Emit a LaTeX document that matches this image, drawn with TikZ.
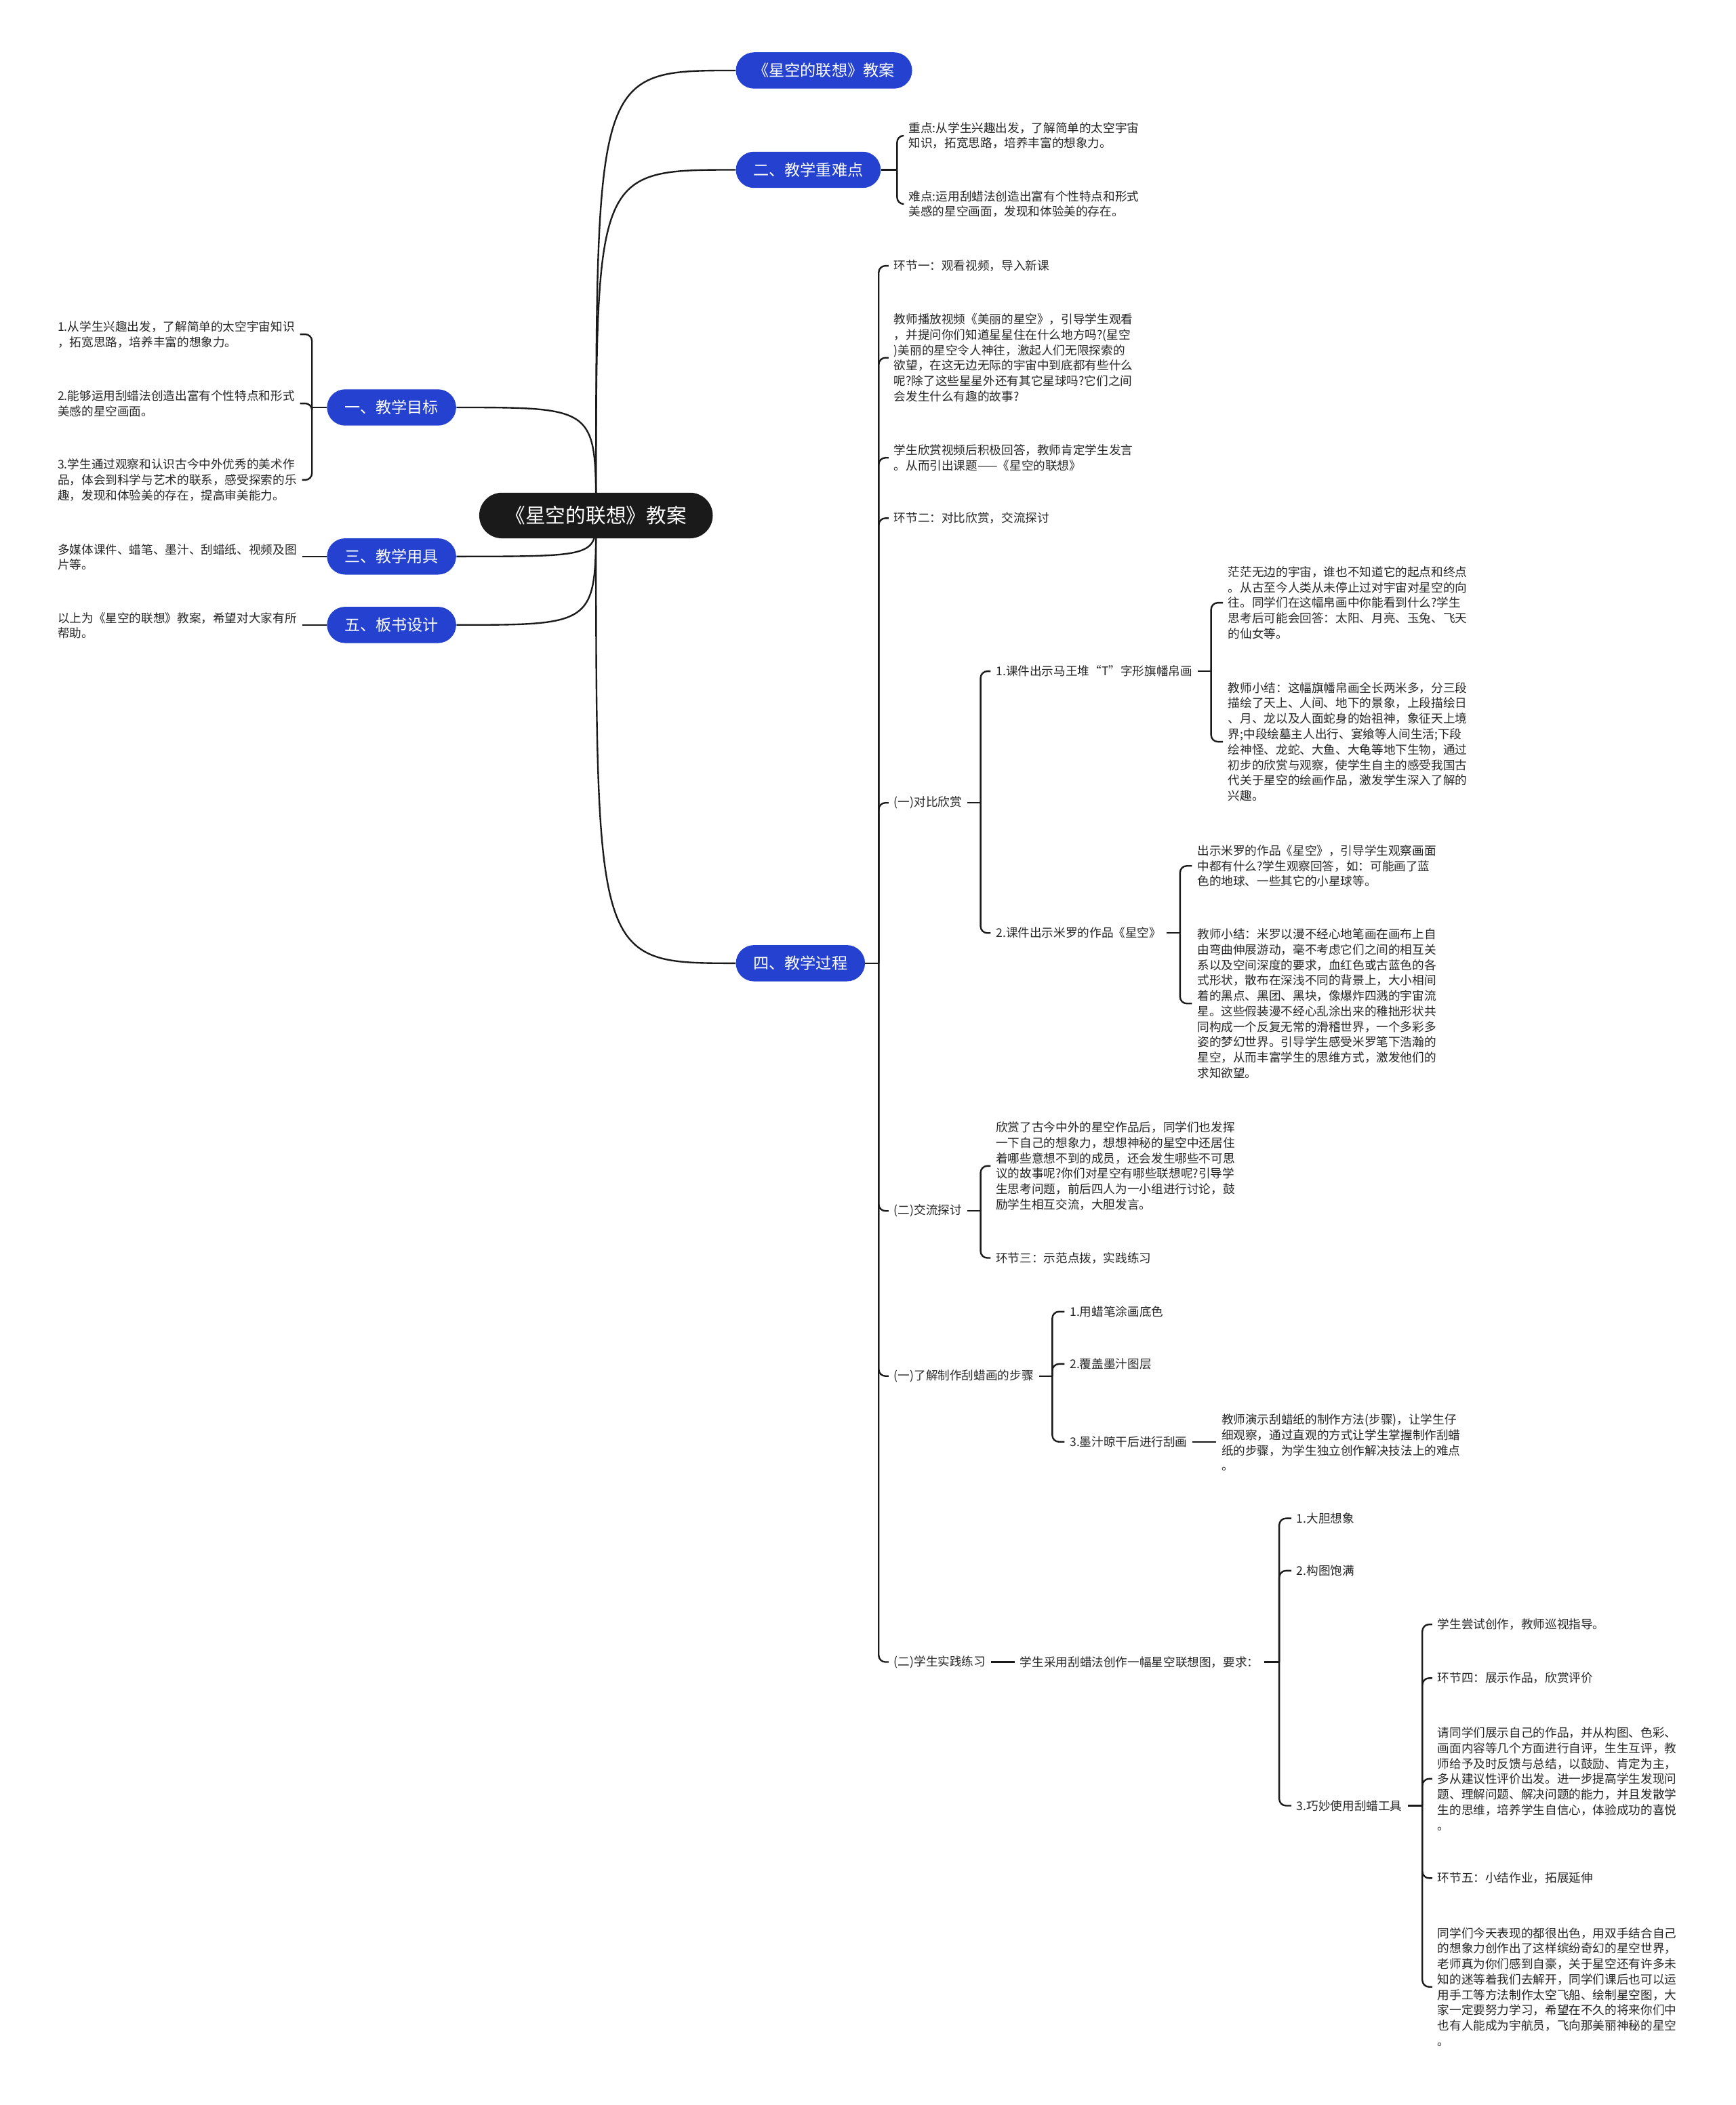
\documentclass[tikz,border=0pt]{standalone}
\usepackage{fontspec}
\setmainfont{Noto Sans CJK SC}
\usetikzlibrary{backgrounds}
\definecolor{mapink}{HTML}{1A1A1A}
\definecolor{mapblue}{HTML}{2441D0}
\definecolor{maptext}{HTML}{262626}

\begin{document}
\begin{tikzpicture}[x=1pt, y=-1pt,
    every node/.style={inner sep=0pt},
    rootbox/.style={fill=mapink, text=white, rounded corners=17pt,
                    minimum height=34pt, inner xsep=19.5pt,
                    font=\fontsize{15}{18}\selectfont},
    topic/.style={fill=mapblue, text=white, rounded corners=13.5pt,
                  minimum height=27pt, inner xsep=13pt,
                  font=\fontsize{11.7}{14}\selectfont},
    leaf/.style={anchor=west, align=left, text=maptext, outer xsep=4pt,
                 font=\fontsize{8.9}{11.5}\selectfont},
    link/.style={draw=mapink, line width=1.2pt},
    elbow/.style={link, rounded corners=5pt}]

  \useasboundingbox (0,0) rectangle (1293,1568);

  %% 分叉: 从短横线的端点折到子节点
  \newcommand{\mapfork}[2]{\draw[elbow] (#1) |- (#2.west);}
  \newcommand{\mapforkl}[2]{\draw[elbow] (#1) |- (#2.east);}

  %% ---- 中心与六个主题 ----
  \node[rootbox] (root) at (444,384) {《星空的联想》教案};
  \node[topic, anchor=west] (plan)    at (548,52.5)  {《星空的联想》教案};
  \node[topic, anchor=west] (focus)   at (548,126.5) {二、教学重难点};
  \node[topic, anchor=west] (process) at (548,717.5) {四、教学过程};
  \node[topic, anchor=east] (goal)    at (340,303.5) {一、教学目标};
  \node[topic, anchor=east] (tool)    at (340,414.5) {三、教学用具};
  \node[topic, anchor=east] (board)   at (340,465.5) {五、板书设计};

  \begin{scope}[on background layer]
    \foreach \t in {plan,focus,process,goal,tool,board}
      {\draw[link] (root.center) .. controls (root.center |- \t.west) .. (\t);}
  \end{scope}

  %% ---- 左边: 教学目标、教学用具、板书设计 ----
  \node[leaf] (goal1) at (39,249)
    {1.从学生兴趣出发，了解简单的太空宇宙知识\\，拓宽思路，培养丰富的想象力。};
  \node[leaf] (goal2) at (39,300.5)
    {2.能够运用刮蜡法创造出富有个性特点和形式\\美感的星空画面。};
  \node[leaf] (goal3) at (39,357.5)
    {3.学生通过观察和认识古今中外优秀的美术作\\品，体会到科学与艺术的联系，感受探索的乐\\趣，发现和体验美的存在，提高审美能力。};
  \coordinate (goalfork) at ([xshift=-11pt]goal.west);
  \draw[link] (goal.west) -- (goalfork);
  \mapforkl{goalfork}{goal1}
  \mapforkl{goalfork}{goal2}
  \mapforkl{goalfork}{goal3}

  \node[leaf] (tool1) at (39,415)
    {多媒体课件、蜡笔、墨汁、刮蜡纸、视频及图\\片等。};
  \draw[link] (tool.west) -- (tool1.east |- tool.west);
  \node[leaf] (board1) at (39,466)
    {以上为《星空的联想》教案，希望对大家有所\\帮助。};
  \draw[link] (board.west) -- (board1.east |- board.west);

  %% ---- 教学重难点 ----
  \node[leaf] (focus1) at (673,101)
    {重点:从学生兴趣出发，了解简单的太空宇宙\\知识，拓宽思路，培养丰富的想象力。};
  \node[leaf] (focus2) at (673,152)
    {难点:运用刮蜡法创造出富有个性特点和形式\\美感的星空画面，发现和体验美的存在。};
  \coordinate (focusfork) at ([xshift=12pt]focus.east);
  \draw[link] (focus.east) -- (focusfork);
  \mapfork{focusfork}{focus1}
  \mapfork{focusfork}{focus2}

  %% ---- 教学过程 ----
  \node[leaf] (step1) at (662,198) {环节一：观看视频，导入新课};
  \node[leaf] (step2) at (662,266.5)
    {教师播放视频《美丽的星空》，引导学生观看\\，并提问你们知道星星住在什么地方吗?(星空\\)美丽的星空令人神往，激起人们无限探索的\\欲望，在这无边无际的宇宙中到底都有些什么\\呢?除了这些星星外还有其它星球吗?它们之间\\会发生什么有趣的故事?};
  \node[leaf] (step3) at (662,341)
    {学生欣赏视频后积极回答，教师肯定学生发言\\。从而引出课题——《星空的联想》};
  \node[leaf] (step4) at (662,386) {环节二：对比欣赏，交流探讨};
  \node[leaf] (compare) at (662,598) {(一)对比欣赏};
  \node[leaf] (discuss) at (662,902) {(二)交流探讨};
  \node[leaf] (making)  at (662,1025) {(一)了解制作刮蜡画的步骤};
  \node[leaf] (practice) at (662,1238) {(二)学生实践练习};
  \coordinate (processfork) at ([xshift=10pt]process.east);
  \draw[link] (process.east) -- (processfork);
  \foreach \c in {step1,step2,step3,step4,compare,discuss,making,practice}
    {\mapfork{processfork}{\c}}

  %% (一)对比欣赏
  \node[leaf] (silk) at (738,500) {1.课件出示马王堆“T”字形旗幡帛画};
  \node[leaf] (miro) at (738,695) {2.课件出示米罗的作品《星空》};
  \coordinate (comparefork) at ([xshift=10pt]compare.east);
  \draw[link] (compare.east) -- (comparefork);
  \mapfork{comparefork}{silk}
  \mapfork{comparefork}{miro}

  \node[leaf] (silk1) at (911,449)
    {茫茫无边的宇宙，谁也不知道它的起点和终点\\。从古至今人类从未停止过对宇宙对星空的向\\往。同学们在这幅帛画中你能看到什么?学生\\思考后可能会回答：太阳、月亮、玉兔、飞天\\的仙女等。};
  \node[leaf] (silk2) at (911,552.5)
    {教师小结：这幅旗幡帛画全长两米多，分三段\\描绘了天上、人间、地下的景象，上段描绘日\\、月、龙以及人面蛇身的始祖神，象征天上境\\界;中段绘墓主人出行、宴飨等人间生活;下段\\绘神怪、龙蛇、大鱼、大龟等地下生物，通过\\初步的欣赏与观察，使学生自主的感受我国古\\代关于星空的绘画作品，激发学生深入了解的\\兴趣。};
  \coordinate (silkfork) at ([xshift=10pt]silk.east);
  \draw[link] (silk.east) -- (silkfork);
  \mapfork{silkfork}{silk1}
  \mapfork{silkfork}{silk2}

  \node[leaf] (miro1) at (888,645)
    {出示米罗的作品《星空》，引导学生观察画面\\中都有什么?学生观察回答，如：可能画了蓝\\色的地球、一些其它的小星球等。};
  \node[leaf] (miro2) at (888,747.5)
    {教师小结：米罗以漫不经心地笔画在画布上自\\由弯曲伸展游动，毫不考虑它们之间的相互关\\系以及空间深度的要求，血红色或古蓝色的各\\式形状，散布在深浅不同的背景上，大小相间\\着的黑点、黑团、黑块，像爆炸四溅的宇宙流\\星。这些假装漫不经心乱涂出来的稚拙形状共\\同构成一个反复无常的滑稽世界，一个多彩多\\姿的梦幻世界。引导学生感受米罗笔下浩瀚的\\星空，从而丰富学生的思维方式，激发他们的\\求知欲望。};
  \coordinate (mirofork) at ([xshift=10pt]miro.east);
  \draw[link] (miro.east) -- (mirofork);
  \mapfork{mirofork}{miro1}
  \mapfork{mirofork}{miro2}

  %% (二)交流探讨
  \node[leaf] (discuss1) at (738,868.5)
    {欣赏了古今中外的星空作品后，同学们也发挥\\一下自己的想象力，想想神秘的星空中还居住\\着哪些意想不到的成员，还会发生哪些不可思\\议的故事呢?你们对星空有哪些联想呢?引导学\\生思考问题，前后四人为一小组进行讨论，鼓\\励学生相互交流，大胆发言。};
  \node[leaf] (step5) at (738,937) {环节三：示范点拨，实践练习};
  \coordinate (discussfork) at ([xshift=10pt]discuss.east);
  \draw[link] (discuss.east) -- (discussfork);
  \mapfork{discussfork}{discuss1}
  \mapfork{discussfork}{step5}

  %% (一)了解制作刮蜡画的步骤
  \node[leaf] (making1) at (793,977) {1.用蜡笔涂画底色};
  \node[leaf] (making2) at (793,1016) {2.覆盖墨汁图层};
  \node[leaf] (making3) at (793,1074) {3.墨汁晾干后进行刮画};
  \coordinate (makingfork) at ([xshift=10pt]making.east);
  \draw[link] (making.east) -- (makingfork);
  \mapfork{makingfork}{making1}
  \mapfork{makingfork}{making2}
  \mapfork{makingfork}{making3}
  \node[leaf] (demo) at (906,1074.5)
    {教师演示刮蜡纸的制作方法(步骤)，让学生仔\\细观察，通过直观的方式让学生掌握制作刮蜡\\纸的步骤，为学生独立创作解决技法上的难点\\。};
  \draw[link] (making3.east) -- (demo.west |- making3.east);

  %% (二)学生实践练习
  \node[leaf] (task) at (756,1238) {学生采用刮蜡法创作一幅星空联想图，要求：};
  \draw[link] (practice.east) -- (task.west);
  \node[leaf] (task1) at (962,1131) {1.大胆想象};
  \node[leaf] (task2) at (962,1170) {2.构图饱满};
  \node[leaf] (task3) at (962,1345) {3.巧妙使用刮蜡工具};
  \coordinate (taskfork) at ([xshift=11pt]task.east);
  \draw[link] (task.east) -- (taskfork);
  \mapfork{taskfork}{task1}
  \mapfork{taskfork}{task2}
  \mapfork{taskfork}{task3}

  \node[leaf] (tool3a) at (1067,1210) {学生尝试创作，教师巡视指导。};
  \node[leaf] (tool3b) at (1067,1250) {环节四：展示作品，欣赏评价};
  \node[leaf] (tool3c) at (1067,1325)
    {请同学们展示自己的作品，并从构图、色彩、\\画面内容等几个方面进行自评，生生互评，教\\师给予及时反馈与总结，以鼓励、肯定为主，\\多从建议性评价出发。进一步提高学生发现问\\题、理解问题、解决问题的能力，并且发散学\\生的思维，培养学生自信心，体验成功的喜悦\\。};
  \node[leaf] (tool3d) at (1067,1399) {环节五：小结作业，拓展延伸};
  \node[leaf] (tool3e) at (1067,1480)
    {同学们今天表现的都很出色，用双手结合自己\\的想象力创作出了这样缤纷奇幻的星空世界，\\老师真为你们感到自豪，关于星空还有许多未\\知的迷等着我们去解开，同学们课后也可以运\\用手工等方法制作太空飞船、绘制星空图，大\\家一定要努力学习，希望在不久的将来你们中\\也有人能成为宇航员，飞向那美丽神秘的星空\\。};
  \coordinate (task3fork) at ([xshift=11pt]task3.east);
  \draw[link] (task3.east) -- (task3fork);
  \foreach \c in {tool3a,tool3b,tool3c,tool3d,tool3e}
    {\mapfork{task3fork}{\c}}

\end{tikzpicture}
\end{document}
